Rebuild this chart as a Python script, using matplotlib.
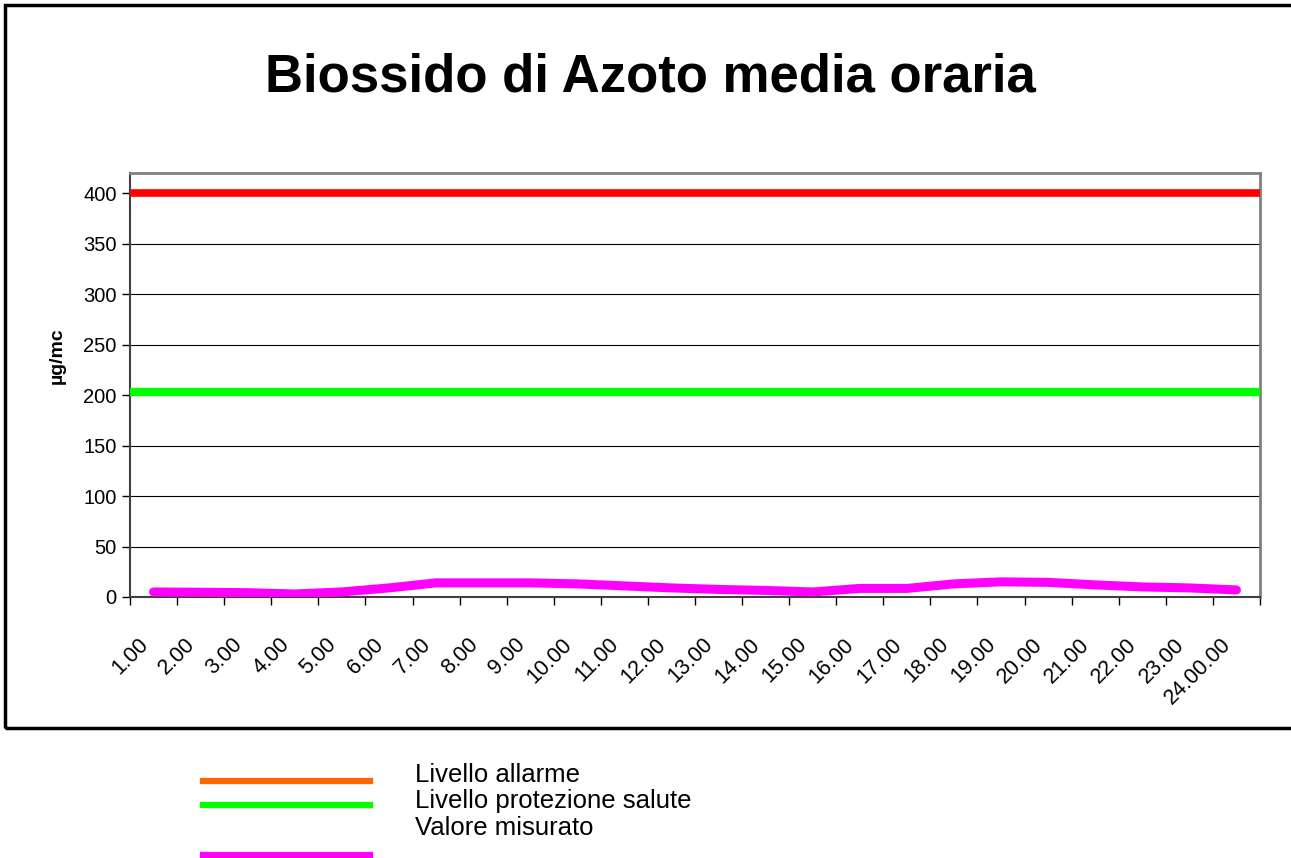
import matplotlib
matplotlib.use('Agg')
import matplotlib.pyplot as plt
from matplotlib.lines import Line2D
from matplotlib.patches import Rectangle
from matplotlib.transforms import ScaledTranslation

plt.rcParams['font.family'] = ['Liberation Sans', 'DejaVu Sans']

# hourly labels
hours = ['1.00', '2.00', '3.00', '4.00', '5.00', '6.00', '7.00', '8.00',
         '9.00', '10.00', '11.00', '12.00', '13.00', '14.00', '15.00', '16.00',
         '17.00', '18.00', '19.00', '20.00', '21.00', '22.00', '23.00', '24.00.00']
# measured NO2 (ug/mc)
measured = [5, 4.7, 4.3, 3, 5, 9, 14, 14, 14, 13, 11, 9,
            7.5, 6.5, 5, 8.5, 8.5, 13, 15, 14.5, 12, 10, 9, 7]
alarm_level = 400
health_level = 203

fig = plt.figure(figsize=(12.91, 8.58), dpi=100)
ax = fig.add_axes([130 / 1291, 1 - 597 / 858, 1130 / 1291, 424 / 858])

x = list(range(len(hours)))
ax.axhline(alarm_level, color='#FF0000', lw=5.5, zorder=3)
ax.axhline(health_level, color='#00FF00', lw=6, zorder=3)
ax.plot(x, measured, color='#FF00FF', lw=6.5, solid_capstyle='round',
        solid_joinstyle='round', zorder=4)

ax.set_xlim(-0.5, len(hours) - 0.5)
ax.set_ylim(0, 420)
ax.set_yticks(range(0, 401, 50))
ax.yaxis.grid(True, color='black', lw=0.8)
ax.set_axisbelow(True)

# ticks between categories, labels at category centres
ax.set_xticks([i - 0.5 for i in range(len(hours) + 1)])
ax.set_xticklabels([])
lbl_tr = ax.get_xaxis_transform() + ScaledTranslation(-0.16, -0.37, fig.dpi_scale_trans)
for i, h in enumerate(hours):
    ax.text(i, 0, h, transform=lbl_tr, rotation=45, ha='right', va='top',
            rotation_mode='anchor', fontsize=15.5, clip_on=False)
ax.tick_params(axis='x', length=6, direction='out', width=1)
ax.tick_params(axis='y', length=6, direction='out', labelsize=14.5, width=1)

for s in ['top', 'right']:
    ax.spines[s].set_color('#808080')
    ax.spines[s].set_linewidth(2)
for s in ['left', 'bottom']:
    ax.spines[s].set_color('#404040')
    ax.spines[s].set_linewidth(1.5)

ax.set_ylabel('µg/mc', fontsize=14, fontweight='bold')
ax.yaxis.set_label_coords(-64 / 1130, (597 - 356) / 424)

fig.text(650 / 1291, 1 - 78 / 858, 'Biossido di Azoto media oraria',
         ha='center', va='center', fontsize=38, fontweight='bold')

# outer chart border
fig.patches.append(Rectangle((5 / 1291, 1 - 728 / 858), 1.1, 723 / 858,
                             transform=fig.transFigure, fill=False,
                             edgecolor='black', lw=2.5, clip_on=False))

# legend drawn below the chart
leg_items = [('Livello allarme', '#FF6600', 781, 775),
             ('Livello protezione salute', '#00FF00', 805, 801),
             ('Valore misurato', '#FF00FF', 855, 828)]
for label, col, ly, ty in leg_items:
    fig.lines.append(Line2D([203 / 1291, 370 / 1291], [1 - ly / 858, 1 - ly / 858],
                            transform=fig.transFigure, color=col, lw=4.5))
    fig.text(415 / 1291, 1 - ty / 858, label, ha='left', va='center', fontsize=18.5)

fig.savefig('out.png', dpi=100)
